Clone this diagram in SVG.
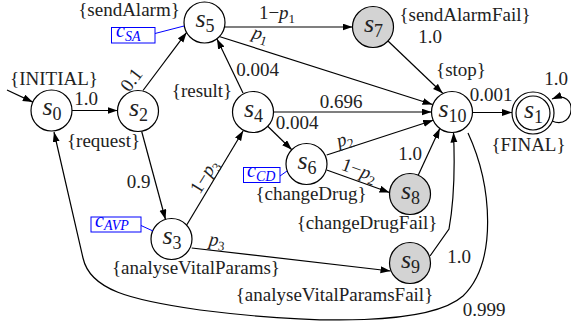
<svg xmlns="http://www.w3.org/2000/svg" width="571" height="326" viewBox="0 0 571 326" font-family="'Liberation Serif', 'DejaVu Serif', serif">
<defs>
<marker id="ah" markerUnits="userSpaceOnUse" markerWidth="11" markerHeight="8" refX="10" refY="3.5" orient="auto">
<path d="M0,0 L10,3.5 L0,7 Z" fill="#000"/>
</marker>
<style>
.n{fill:#fff;stroke:#000;stroke-width:1.2}
.g{fill:#d3d3d3}
.e{fill:none;stroke:#000;stroke-width:1.2;marker-end:url(#ah)}
text{font-family:'Liberation Serif','DejaVu Serif',serif;font-size:19px;fill:#222}
.nl{text-anchor:middle}
.s{font-style:italic;font-size:26px}
.sb{font-size:18px}
.m{text-anchor:middle}
.i{font-style:italic}
.sub{font-size:13px}
.cb{fill:#fff;stroke:#0000ff;stroke-width:1}
.cl{stroke:#0000ff;stroke-width:1;fill:none}
.ct{fill:#0000ff;font-style:italic;font-size:20px}
.cs{font-size:14px}
</style>
</defs>

<g id="connectors">
<path class="e" d="M7,90 L32.8,102.1"/>
<path class="e" d="M72,110.5 L117.5,110.5"/>
<path class="e" d="M143,90.5 L186.6,32.4"/>
<path class="e" d="M141.7,131.5 L165.5,219.5"/>
<path class="e" d="M186.7,225 L243.2,130.7"/>
<path class="e" d="M191.7,248 L390.5,271"/>
<path class="e" d="M243,93 L217,39"/>
<path class="e" d="M273.5,112 L431.5,112"/>
<path class="e" d="M267.7,126.3 L291.8,149.7"/>
<path class="e" d="M224.5,27 L352.5,27"/>
<path class="e" d="M220,36.7 L432.5,104.5"/>
<path class="e" d="M326.7,155 L433.2,120.2"/>
<path class="e" d="M326.7,170 L389.5,192.5"/>
<path class="e" d="M418.3,175 L439.8,128.4"/>
<path class="e" d="M388,41 L442.7,93.3"/>
<path class="e" d="M430,256 L449,229 Q456,190 453.5,132.5"/>
<path class="e" d="M472.5,112.5 L512,112.5"/>
<path class="e" d="M552,121 C576,131 579,88 552,99"/>
<path class="e" d="M468,133 C492,185 498,262 463,296 C430,325 320,325 200,310 C130,300 90,290 83,258 L54,132"/>
<text class="m" x="86" y="105">1.0</text>
<text class="m" transform="translate(131.5,80) rotate(-53)" y="6">0.1</text>
<text class="m" x="138.5" y="188">0.9</text>
<text class="m" transform="translate(205,177) rotate(-58)" y="5">1−<tspan class="i">p</tspan><tspan class="sub" dy="4">3</tspan></text>
<text class="m" transform="translate(217,242) rotate(7)" y="4"><tspan class="i">p</tspan><tspan class="sub" dy="4">3</tspan></text>
<text class="m" x="257.5" y="76">0.004</text>
<text class="m" x="341" y="108">0.696</text>
<text class="m" x="297" y="129">0.004</text>
<text class="m" x="277" y="19">1−<tspan class="i">p</tspan><tspan class="sub" dy="4">1</tspan></text>
<text class="m" transform="translate(260,36) rotate(17)" y="4"><tspan class="i">p</tspan><tspan class="sub" dy="4">1</tspan></text>
<text class="m" transform="translate(345,141) rotate(-18)" y="4"><tspan class="i">p</tspan><tspan class="sub" dy="4">2</tspan></text>
<text class="m" transform="translate(359,171) rotate(20)" y="5">1−<tspan class="i">p</tspan><tspan class="sub" dy="4">2</tspan></text>
<text class="m" x="410" y="160">1.0</text>
<text class="m" x="430" y="43">1.0</text>
<text class="m" x="459" y="263">1.0</text>
<text class="m" x="491" y="101">0.001</text>
<text class="m" x="556" y="85">1.0</text>
<text class="m" x="484" y="316">0.999</text>
</g>

<g id="s0">
<circle class="n" cx="51.5" cy="110.5" r="20.5"/>
<text class="nl" x="52" y="115"><tspan class="s">s</tspan><tspan class="sb" dy="5">0</tspan></text>
<text class="m" x="54" y="85">{INITIAL}</text>
</g>
<g id="s2">
<circle class="n" cx="138" cy="111" r="20.5"/>
<text class="nl" x="138.5" y="115.5"><tspan class="s">s</tspan><tspan class="sb" dy="5">2</tspan></text>
<text class="m" x="103.5" y="147">{request}</text>
</g>
<g id="s5">
<circle class="n" cx="204.5" cy="22.5" r="20.5"/>
<text class="nl" x="205" y="27"><tspan class="s">s</tspan><tspan class="sb" dy="5">5</tspan></text>
<text class="m" x="129" y="16">{sendAlarm}</text>
<rect class="cb" x="111.5" y="27.5" width="43.5" height="15.5"/>
<line class="cl" x1="155" y1="33.5" x2="184" y2="26"/>
<text class="ct" x="116" y="37">c<tspan class="cs" dy="3.5">SA</tspan></text>
</g>
<g id="s7">
<circle class="n g" cx="373" cy="27" r="20.5"/>
<text class="nl" x="373.5" y="31.5"><tspan class="s">s</tspan><tspan class="sb" dy="5">7</tspan></text>
<text class="m" x="465" y="21">{sendAlarmFail}</text>
</g>
<g id="s4">
<circle class="n" cx="253" cy="112" r="20.5"/>
<text class="nl" x="253.5" y="116.5"><tspan class="s">s</tspan><tspan class="sb" dy="5">4</tspan></text>
<text class="m" x="202" y="97">{result}</text>
</g>
<g id="s3">
<circle class="n" cx="171.5" cy="239" r="20.5"/>
<text class="nl" x="172" y="243.5"><tspan class="s">s</tspan><tspan class="sb" dy="5">3</tspan></text>
<text class="m" x="196" y="274">{analyseVitalParams}</text>
<rect class="cb" x="91" y="217" width="50" height="15"/>
<line class="cl" x1="141" y1="225.5" x2="153" y2="231"/>
<text class="ct" x="95" y="226.5">c<tspan class="cs" dy="3.5">AVP</tspan></text>
</g>
<g id="s6">
<circle class="n" cx="306.5" cy="164" r="20.5"/>
<text class="nl" x="307" y="168.5"><tspan class="s">s</tspan><tspan class="sb" dy="5">6</tspan></text>
<text class="m" x="311" y="200">{changeDrug}</text>
<rect class="cb" x="243.5" y="167.5" width="36.5" height="15"/>
<line class="cl" x1="280" y1="176" x2="287" y2="171"/>
<text class="ct" x="247" y="177">c<tspan class="cs" dy="3.5">CD</tspan></text>
</g>
<g id="s8">
<circle class="n g" cx="410" cy="194" r="20.5"/>
<text class="nl" x="410.5" y="198.5"><tspan class="s">s</tspan><tspan class="sb" dy="5">8</tspan></text>
<text class="m" x="367" y="229">{changeDrugFail}</text>
</g>
<g id="s9">
<circle class="n g" cx="410" cy="263" r="20.5"/>
<text class="nl" x="410.5" y="267.5"><tspan class="s">s</tspan><tspan class="sb" dy="5">9</tspan></text>
<text class="m" x="334.5" y="301">{analyseVitalParamsFail}</text>
</g>
<g id="s10">
<circle class="n" cx="452" cy="112" r="20.5"/>
<text class="nl" x="452.5" y="116.5"><tspan class="s">s</tspan><tspan class="sb" dy="5">10</tspan></text>
<text class="m" x="461" y="76">{stop}</text>
</g>
<g id="s1">
<circle class="n" cx="533" cy="113" r="21"/>
<circle class="n" cx="533" cy="113" r="17"/>
<text class="nl" x="533.5" y="117.5"><tspan class="s">s</tspan><tspan class="sb" dy="5">1</tspan></text>
<text class="m" x="528.5" y="151">{FINAL}</text>
</g>
</svg>
